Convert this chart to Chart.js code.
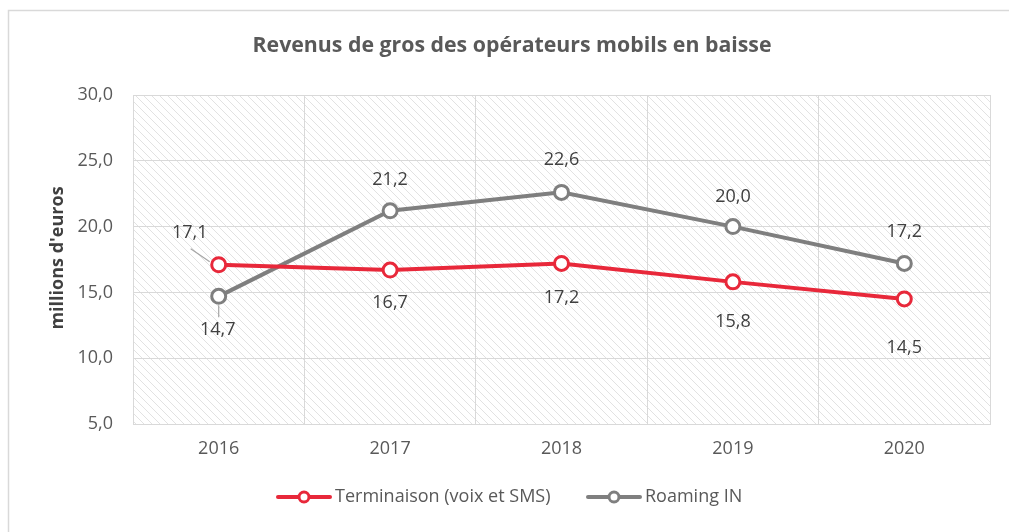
<!DOCTYPE html>
<html>
<head>
<meta charset="utf-8">
<script src="https://cdn.jsdelivr.net/npm/chart.js@4.4.1/dist/chart.umd.min.js"></script>
<style>
  html, body { margin: 0; padding: 0; background: #fff; }
  #wrap { width: 1009px; height: 532px; position: relative; }
</style>
</head>
<body>
<div id="wrap"><canvas id="c" width="1009" height="532"></canvas></div>
<script>
const categories = ['2016', '2017', '2018', '2019', '2020'];
const terminaison = [17.1, 16.7, 17.2, 15.8, 14.5];
const roaming = [14.7, 21.2, 22.6, 20.0, 17.2];
const seriesNames = ['Terminaison (voix et SMS)', 'Roaming IN'];
const yTicks = [5, 10, 15, 20, 25, 30];
const chartTitle = 'Revenus de gros des opérateurs mobils en baisse';
const yTitle = "millions d'euros";

// label placement (pixel offsets from each point), styling only
const labelOffsets = [
  [[-29, -32], [0, 33], [0, 34], [0, 40], [0, 49]],
  [[-1, 34], [0, -31], [0, -33], [0, -30], [0, -32]]
];

const RED = '#E8283A';
const GRAY = '#7F7F7F';
const TXT = '#595959';
const FONT = '"Open Sans", "DejaVu Sans", sans-serif';

const fmt = v => v.toFixed(1).replace('.', ',');

// hatch pattern
const pc = document.createElement('canvas');
pc.width = 8; pc.height = 8;
const px = pc.getContext('2d');
px.strokeStyle = '#e2e2e2';
px.lineWidth = 1;
px.beginPath();
px.moveTo(-1, -1); px.lineTo(9, 9);
px.moveTo(-1, 7); px.lineTo(1, 9);
px.moveTo(7, -1); px.lineTo(9, 1);
px.stroke();

const decor = {
  id: 'decor',
  beforeDraw(chart) {
    const ctx = chart.ctx, a = chart.chartArea;
    ctx.save();
    ctx.fillStyle = '#fff';
    ctx.fillRect(0, 0, chart.width, chart.height);
    ctx.strokeStyle = '#d9d9d9';
    ctx.lineWidth = 1.5;
    ctx.strokeRect(8.5, 10.5, 1020, 540);
    ctx.fillStyle = ctx.createPattern(pc, 'repeat');
    ctx.fillRect(a.left, a.top, a.right - a.left, a.bottom - a.top);
    ctx.restore();
  },
  afterDraw(chart) {
    const ctx = chart.ctx;
    ctx.save();
    ctx.fillStyle = TXT;
    ctx.font = 'bold 21.3px ' + FONT;
    ctx.textAlign = 'center';
    ctx.textBaseline = 'middle';
    ctx.fillText(chartTitle, 512, 46);
    ctx.save();
    ctx.translate(58, 258);
    ctx.rotate(-Math.PI / 2);
    ctx.font = 'bold 18px ' + FONT;
    ctx.fillStyle = '#404040';
    ctx.fillText(yTitle, 0, 0);
    ctx.restore();
    const items = [
      { x: 278, color: RED, text: seriesNames[0] },
      { x: 588, color: GRAY, text: seriesNames[1] }
    ];
    const ly = 497;
    items.forEach(it => {
      ctx.strokeStyle = it.color;
      ctx.lineWidth = 4;
      ctx.lineCap = 'round';
      ctx.beginPath();
      ctx.moveTo(it.x, ly); ctx.lineTo(it.x + 52, ly);
      ctx.stroke();
      ctx.beginPath();
      ctx.arc(it.x + 26, ly, 5, 0, Math.PI * 2);
      ctx.fillStyle = '#fff';
      ctx.fill();
      ctx.lineWidth = 3;
      ctx.stroke();
      ctx.fillStyle = TXT;
      ctx.font = '18px ' + FONT;
      ctx.textAlign = 'left';
      ctx.fillText(it.text, it.x + 57, ly);
    });
    ctx.restore();
  },
  afterDatasetsDraw(chart) {
    const ctx = chart.ctx;
    ctx.save();
    ctx.font = '18px ' + FONT;
    ctx.fillStyle = '#404040';
    ctx.textAlign = 'center';
    ctx.textBaseline = 'middle';
    chart.data.datasets.forEach((ds, di) => {
      const meta = chart.getDatasetMeta(di);
      meta.data.forEach((pt, i) => {
        const [dx, dy] = labelOffsets[di][i];
        ctx.fillText(fmt(ds.data[i]), pt.x + dx, pt.y + dy);
      });
    });
    ctx.strokeStyle = '#a6a6a6';
    ctx.lineWidth = 1.2;
    const p0 = chart.getDatasetMeta(0).data[0];
    ctx.beginPath();
    ctx.moveTo(p0.x - 28, p0.y - 16);
    ctx.lineTo(p0.x - 9, p0.y - 3);
    ctx.stroke();
    const p1 = chart.getDatasetMeta(1).data[0];
    ctx.beginPath();
    ctx.moveTo(p1.x, p1.y + 9);
    ctx.lineTo(p1.x, p1.y + 21);
    ctx.stroke();
    ctx.restore();
  }
};

new Chart(document.getElementById('c'), {
  type: 'line',
  data: {
    labels: categories,
    datasets: [
      { label: seriesNames[0], data: terminaison, borderColor: RED, backgroundColor: '#fff',
        borderWidth: 4, pointRadius: 7, pointHoverRadius: 7, pointBorderWidth: 3,
        pointBackgroundColor: '#fff', pointBorderColor: RED, tension: 0 },
      { label: seriesNames[1], data: roaming, borderColor: GRAY, backgroundColor: '#fff',
        borderWidth: 4, pointRadius: 7, pointHoverRadius: 7, pointBorderWidth: 3,
        pointBackgroundColor: '#fff', pointBorderColor: GRAY, tension: 0 }
    ]
  },
  options: {
    responsive: false,
    animation: false,
    events: [],
    layout: { padding: { left: 0, right: 19, top: 95, bottom: 0 } },
    plugins: { legend: { display: false }, title: { display: false }, tooltip: { enabled: false } },
    scales: {
      x: {
        offset: true,
        grid: { offset: true, color: '#d9d9d9', lineWidth: 1, drawTicks: false },
        border: { color: '#d9d9d9', width: 1 },
        ticks: { color: TXT, font: { family: FONT, size: 18 }, padding: 14 },
        afterFit(s) { s.height = 532 - 424; }
      },
      y: {
        min: 5, max: 30,
        afterBuildTicks(s) { s.ticks = yTicks.map(v => ({ value: v })); },
        grid: { color: '#d9d9d9', lineWidth: 1, drawTicks: false },
        border: { color: '#d9d9d9', width: 1 },
        ticks: { color: TXT, font: { family: FONT, size: 18 }, padding: 20, callback: v => fmt(v) },
        afterFit(s) { s.width = 133; }
      }
    }
  },
  plugins: [decor]
});
</script>
</body>
</html>
